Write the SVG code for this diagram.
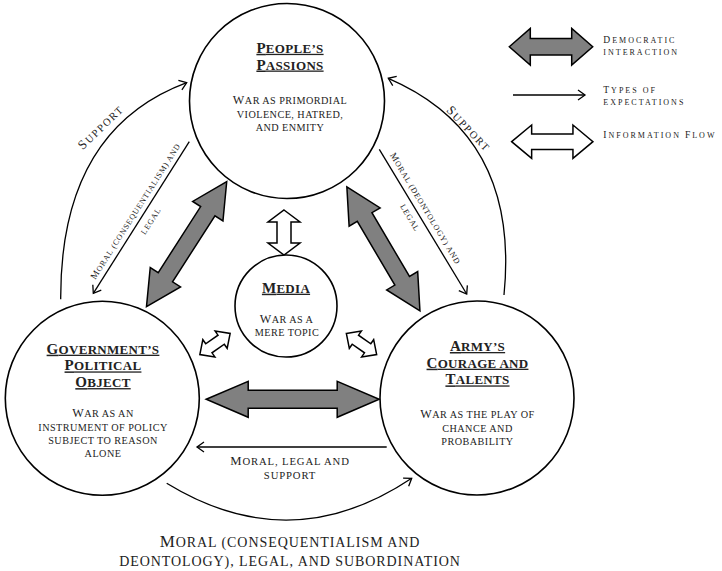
<svg xmlns="http://www.w3.org/2000/svg" width="722" height="571" viewBox="0 0 722 571">
<defs>
<style>
.node circle { fill:#fff; stroke:#000; stroke-width:1.6; }
text { font-family:"Liberation Serif","Times New Roman",serif; fill:#222; text-anchor:middle; }
.h { font-size:13px; font-weight:bold; letter-spacing:0.3px; text-decoration:underline; }
.h .c { font-size:15px; }
.b { font-size:10.2px; letter-spacing:0.45px; }
.b .c { font-size:12.2px; }
.lg { font-size:8px; letter-spacing:2px; text-anchor:start; }
.lg .c { font-size:9.5px; }
.lb { font-size:8px; letter-spacing:0.8px; }
.lb .c { font-size:9.5px; }
.sup { font-size:10.5px; letter-spacing:1.6px; }
.sup .c { font-size:13px; }
.mid { font-size:10.7px; letter-spacing:0.87px; }
.mid .c { font-size:12.7px; }
.bot { font-size:14px; letter-spacing:0.93px; }
.bot .c { font-size:17px; }
.thin { fill:none; stroke:#000; stroke-width:1.3; marker-end:url(#ah); }
.dem { fill:#808080; stroke:#000; stroke-width:1.5; }
.info { fill:#fff; stroke:#000; stroke-width:1.5; }
</style>
<marker id="ah" markerUnits="userSpaceOnUse" viewBox="-10 -7 12 14" markerWidth="12" markerHeight="14" refX="0" refY="0" orient="auto" overflow="visible">
<path d="M-7,-5 L0,0 L-7,5" fill="none" stroke="#000" stroke-width="1.3"/>
</marker>
</defs>
<rect width="722" height="571" fill="#fff"/>

<g id="connectors">
  <!-- democratic interaction (gray double arrows) -->
  <path class="dem" transform="translate(292.7,399.3)" d="M-86.5,0 L-44.5,-18 L-44.5,-9 L44.5,-9 L44.5,-18 L86.5,0 L44.5,18 L44.5,9 L-44.5,9 L-44.5,18 Z"/>
  <path class="dem" transform="translate(186.6,244.2) rotate(-57.3)" d="M-74.25,0 L-39.25,-18 L-39.25,-8.5 L39.25,-8.5 L39.25,-18 L74.25,0 L39.25,18 L39.25,8.5 L-39.25,8.5 L-39.25,18 Z"/>
  <path class="dem" transform="translate(383.4,248.9) rotate(59.5)" d="M-72,0 L-37,-18 L-37,-8.5 L37,-8.5 L37,-18 L72,0 L37,18 L37,8.5 L-37,8.5 L-37,18 Z"/>
  <!-- information flow (white double arrows) -->
  <path class="info" transform="translate(284,232.5) rotate(90)" d="M-22.5,0 L-10.5,-16 L-10.5,-7 L10.5,-7 L10.5,-16 L22.5,0 L10.5,16 L10.5,7 L-10.5,7 L-10.5,16 Z"/>
  <path class="info" transform="translate(215,344) rotate(-35)" d="M-18.5,0 L-7.5,-10.5 L-7.5,-5.5 L7.5,-5.5 L7.5,-10.5 L18.5,0 L7.5,10.5 L7.5,5.5 L-7.5,5.5 L-7.5,10.5 Z"/>
  <path class="info" transform="translate(361.5,344) rotate(35)" d="M-18.5,0 L-7.5,-10.5 L-7.5,-5.5 L7.5,-5.5 L7.5,-10.5 L18.5,0 L7.5,10.5 L7.5,5.5 L-7.5,5.5 L-7.5,10.5 Z"/>
  <!-- types of expectations (thin arrows) -->
  <path class="thin" d="M60.7,299.3 Q60,130 186.7,82.7"/>
  <path class="thin" d="M504,295 Q520,135 388.3,78.3"/>
  <path class="thin" d="M189.3,141.7 L93.3,293.3"/>
  <path class="thin" d="M379.3,149.3 L466.7,294"/>
  <path class="thin" d="M386.7,447 L197,447"/>
  <path class="thin" d="M166.7,483.3 Q290.8,559.2 411.7,478.3"/>
  <!-- labels -->
  <g transform="translate(101.3,127.5) rotate(-44)"><text class="sup" x="0" y="3.5"><tspan class="c">S</tspan>UPPORT</text></g>
  <g transform="translate(468.3,129.2) rotate(46.2)"><text class="sup" x="0" y="3.5"><tspan class="c">S</tspan>UPPORT</text></g>
  <g transform="translate(142.7,215.7) rotate(-57.5)">
    <text class="lb"><tspan x="0" y="-5.5"><tspan class="c">M</tspan>ORAL (CONSEQUENTIALISM) AND</tspan><tspan x="0" y="12.5">LEGAL</tspan></text>
  </g>
  <g transform="translate(417.8,213.1) rotate(58.9)">
    <text class="lb"><tspan x="0" y="-6"><tspan class="c">M</tspan>ORAL (DEONTOLOGY) AND</tspan><tspan x="0" y="11.8">LEGAL</tspan></text>
  </g>
  <text class="mid"><tspan x="290" y="465"><tspan class="c">M</tspan>ORAL, LEGAL AND</tspan><tspan x="290" y="479">SUPPORT</tspan></text>
  <text class="bot"><tspan x="290" y="547"><tspan class="c">M</tspan>ORAL (CONSEQUENTIALISM AND</tspan><tspan x="290" y="566">DEONTOLOGY), LEGAL, AND SUBORDINATION</tspan></text>
</g>

<g id="people" class="node">
  <circle cx="287" cy="101" r="97.5"/>
  <text class="h"><tspan x="290" y="52.8"><tspan class="c">P</tspan>EOPLE’S</tspan><tspan x="290" y="69.5"><tspan class="c">P</tspan>ASSIONS</tspan></text>
  <text class="b"><tspan x="290" y="104"><tspan class="c">W</tspan>AR AS PRIMORDIAL</tspan><tspan x="290" y="117.5">VIOLENCE, HATRED,</tspan><tspan x="290" y="131">AND ENMITY</tspan></text>
</g>

<g id="government" class="node">
  <circle cx="102.3" cy="398.3" r="97"/>
  <text class="h"><tspan x="103" y="353.7"><tspan class="c">G</tspan>OVERNMENT’S</tspan><tspan x="103" y="370.4"><tspan class="c">P</tspan>OLITICAL</tspan><tspan x="103" y="387.1"><tspan class="c">O</tspan>BJECT</tspan></text>
  <text class="b"><tspan x="103" y="417.3"><tspan class="c">W</tspan>AR AS AN</tspan><tspan x="103" y="430.5">INSTRUMENT OF POLICY</tspan><tspan x="103" y="443.8">SUBJECT TO REASON</tspan><tspan x="103" y="457">ALONE</tspan></text>
</g>

<g id="army" class="node">
  <circle cx="477" cy="398" r="97"/>
  <text class="h"><tspan x="477.5" y="351"><tspan class="c">A</tspan>RMY’S</tspan><tspan x="477.5" y="367.7"><tspan class="c">C</tspan>OURAGE AND</tspan><tspan x="477.5" y="384.4"><tspan class="c">T</tspan>ALENTS</tspan></text>
  <text class="b"><tspan x="477.5" y="418.3"><tspan class="c">W</tspan>AR AS THE PLAY OF</tspan><tspan x="477.5" y="431.7">CHANCE AND</tspan><tspan x="477.5" y="445">PROBABILITY</tspan></text>
</g>

<g id="media" class="node">
  <circle cx="286" cy="306" r="51"/>
  <text class="h" x="286" y="292.7"><tspan class="c">M</tspan>EDIA</text>
  <text class="b"><tspan x="286.5" y="322.7"><tspan class="c">W</tspan>AR AS A</tspan><tspan x="287" y="336">MERE TOPIC</tspan></text>
</g>

<g id="legend">
  <path class="dem" transform="translate(551,46.7)" d="M-41.7,0 L-20.7,-18.3 L-20.7,-8.3 L20.7,-8.3 L20.7,-18.3 L41.7,0 L20.7,18.3 L20.7,8.3 L-20.7,8.3 L-20.7,18.3 Z"/>
  <text class="lg"><tspan x="603.3" y="43.3"><tspan class="c">D</tspan>EMOCRATIC</tspan><tspan x="603.3" y="55">INTERACTION</tspan></text>
  <path class="thin" d="M513,95 L585,95"/>
  <text class="lg"><tspan x="603.3" y="92.7"><tspan class="c">T</tspan>YPES OF</tspan><tspan x="603.3" y="105.3">EXPECTATIONS</tspan></text>
  <path class="info" transform="translate(552.3,141.7)" d="M-40.65,0 L-20.65,-16.7 L-20.65,-7.8 L20.65,-7.8 L20.65,-16.7 L40.65,0 L20.65,16.7 L20.65,7.8 L-20.65,7.8 L-20.65,16.7 Z"/>
  <text class="lg" x="603.3" y="137.7"><tspan class="c">I</tspan>NFORMATION <tspan class="c">F</tspan>LOW</text>
</g>
</svg>
